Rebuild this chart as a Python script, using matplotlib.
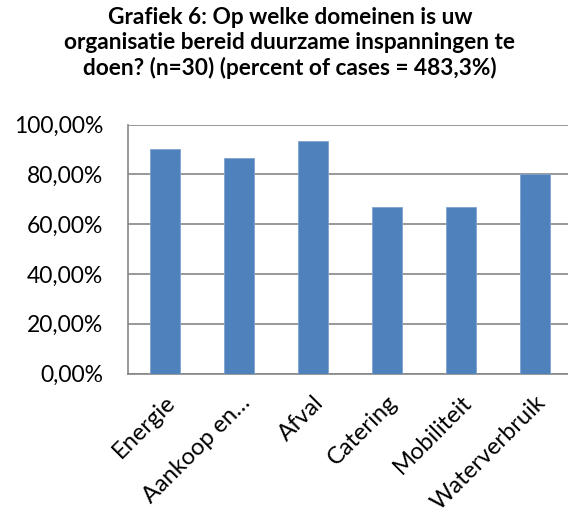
import matplotlib
matplotlib.use("Agg")
import matplotlib.pyplot as plt
from matplotlib.ticker import FuncFormatter

categories = ["Energie", "Aankoop en…", "Afval", "Catering", "Mobiliteit", "Waterverbruik"]
values = [90.0, 86.67, 93.33, 66.67, 66.67, 80.0]
yticks = [0, 20, 40, 60, 80, 100]
title = ("Grafiek 6: Op welke domeinen is uw\n"
         "organisatie bereid duurzame inspanningen te\n"
         "doen? (n=30) (percent of cases = 483,3%)")

W, H = 568, 515
fig = plt.figure(figsize=(W / 100, H / 100), dpi=100)
fig.patch.set_facecolor("white")

left, right, top, bottom = 128, 572, 124.5, 373.5
ax = fig.add_axes([left / W, 1 - bottom / H, (right - left) / W, (bottom - top) / H])

x = list(range(len(categories)))
ax.bar(x, values, width=0.405, color="#4F81BD", edgecolor="#7FA3D0", linewidth=0.6, zorder=3)
ax.set_xlim(-0.5, len(categories) - 0.5)
ax.set_ylim(0, 100)
ax.set_yticks(yticks)
ax.yaxis.set_major_formatter(FuncFormatter(lambda v, p: f"{v:.2f}%".replace(".", ",")))
ax.grid(axis="y", color="#868686", linewidth=1.2, zorder=0)
for s in ["top", "right"]:
    ax.spines[s].set_visible(False)
ax.spines["left"].set_color("#868686")
ax.spines["bottom"].set_color("#868686")
ax.spines["left"].set_linewidth(1.2)
ax.spines["bottom"].set_linewidth(1.2)
ax.tick_params(axis="both", length=0)
ax.tick_params(axis="y", pad=18)
ax.tick_params(axis="x", pad=13)
ax.set_xticks(x)
ax.set_xticklabels(categories, rotation=45, ha="right", rotation_mode="anchor",
                   fontsize=17, family="Lato")
for lab in ax.get_yticklabels():
    lab.set_fontsize(16.5)
    lab.set_family("Lato")

fig.text(290 / W, 1 - 7 / H, title, ha="center", va="top", fontsize=16.3,
         fontweight="bold", family="Lato", linespacing=1.24)

fig.savefig("out.png", dpi=100, facecolor="white")
